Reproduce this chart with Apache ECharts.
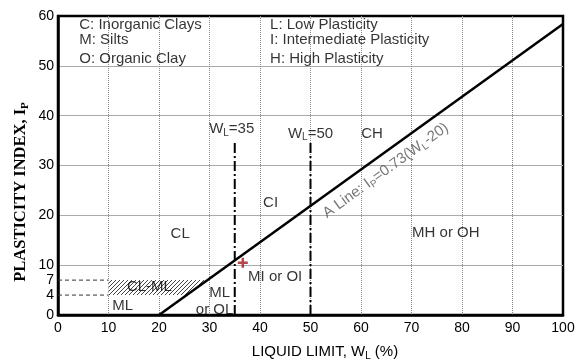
<!DOCTYPE html>
<html><head><meta charset="utf-8">
<script src="https://cdn.jsdelivr.net/npm/echarts@6/dist/echarts.min.js"></script>
<style>html,body{margin:0;padding:0;background:#fff}#c{width:580px;height:360px}</style>
</head><body><div id="c"></div>
<script>
// ---- data ----
const xRange = [0, 100];
const yRange = [0, 60];
const yTickLabels = [0, 4, 7, 10, 20, 30, 40, 50, 60];
const aLinePoints = [[20, 0], [100, 58.4]];
const wl35Line = [[35, 0], [35, 35]];
const wl50Line = [[50, 0], [50, 35]];
const ip4Line = [[0, 4], [10, 4]];
const ip7Line = [[0, 7], [10, 7]];
const clmlPolygon = [[10, 4], [25.5, 4], [29.6, 7], [10, 7]];
const samplePoint = [[36.6, 10.5]];
// [x, y, text, anchor]
const legendTexts = [
  [4.2, 58.3, 'C: Inorganic Clays', 'left'],
  [4.2, 55.2, 'M: Silts', 'left'],
  [4.2, 51.3, 'O: Organic Clay', 'left'],
  [42.0, 58.3, 'L: Low Plasticity', 'left'],
  [42.0, 55.2, 'I: Intermediate Plasticity', 'left'],
  [42.0, 51.3, 'H: High Plasticity', 'left']
];
const zoneTexts = [
  [24.2, 16.3, 'CL', 'center'],
  [18.1, 5.6, 'CL-ML', 'center'],
  [12.8, 1.8, 'ML', 'center'],
  [32.0, 4.5, 'ML', 'center'],
  [31.0, 1.0, 'or OL', 'center'],
  [43.0, 7.7, 'MI or OI', 'center'],
  [42.1, 22.5, 'CI', 'center'],
  [62.2, 36.3, 'CH', 'center'],
  [76.8, 16.5, 'MH or OH', 'center'],
  [34.4, 37.3, 'W{s|L}=35', 'center'],
  [50.0, 36.4, 'W{s|L}=50', 'center']
];
const aLineLabel = [[64.9, 29.0, 'A Line: I{s|P}=0.73(W{s|L}-20)']];
const xTitle = 'LIQUID LIMIT, W{s|L} (%)';
const yTitle = 'PLASTICITY INDEX, I{s|P}';

// ---- chart ----
const FONT = '"Liberation Sans", Arial, sans-serif';
const SERIF = '"Liberation Serif", "Times New Roman", serif';
const subRich = { s: { fontSize: 10, fontFamily: FONT, padding: [8, 0, 0, 0] } };

const pc = document.createElement('canvas');
pc.width = 4; pc.height = 4;
const g = pc.getContext('2d');
g.fillStyle = '#fff'; g.fillRect(0, 0, 4, 4);
g.fillStyle = '#444';
for (let i = 0; i < 4; i++) g.fillRect(i, 3 - i, 1, 1);

function lineSeries(data, style) {
  return { type: 'line', data: data, showSymbol: false, symbol: 'none', silent: true,
    lineStyle: style, z: 4, animation: false };
}
function textSeries(items, color, extra) {
  return {
    type: 'scatter', symbolSize: 0, silent: true, z: 6, animation: false,
    data: items.map(t => ({
      value: [t[0], t[1]],
      label: Object.assign({ show: true, position: 'inside', formatter: t[2], align: t[3] || 'center',
        verticalAlign: 'middle', color: color, fontSize: 15, fontFamily: FONT, rich: subRich }, extra || {})
    }))
  };
}

const chart = echarts.init(document.getElementById('c'), null, { renderer: 'canvas' });
chart.setOption({
  animation: false,
  backgroundColor: '#fff',
  grid: { left: 58, right: 17, top: 16, bottom: 45, show: true, borderColor: '#000', borderWidth: 2.5, backgroundColor: 'transparent' },
  xAxis: {
    type: 'value', min: xRange[0], max: xRange[1], interval: 10,
    axisLine: { show: true, onZero: false, lineStyle: { color: '#000', width: 2.5 } },
    axisTick: { show: false },
    axisLabel: { color: '#000', fontSize: 14, fontFamily: FONT, margin: 6 },
    splitLine: { show: true, showMinLine: false, showMaxLine: false, lineStyle: { type: 'dotted', color: '#888', width: 1 } }
  },
  yAxis: {
    type: 'value', min: yRange[0], max: yRange[1], interval: 10,
    axisLine: { show: true, onZero: false, lineStyle: { color: '#000', width: 2.5 } },
    axisTick: { show: false },
    axisLabel: { color: '#000', fontSize: 14, fontFamily: FONT, margin: 4, customValues: yTickLabels },
    splitLine: { show: true, showMinLine: false, showMaxLine: false, lineStyle: { type: 'solid', color: '#aaa', width: 1 } }
  },
  graphic: [
    { type: 'text', x: 325, y: 352, silent: true,
      style: { text: xTitle, fill: '#000', fontSize: 15, fontFamily: FONT, align: 'center', verticalAlign: 'middle', rich: subRich } },
    { type: 'text', x: 21, y: 192, rotation: Math.PI / 2, silent: true,
      style: { text: yTitle, fill: '#000', fontSize: 16.5, fontWeight: 'bold', fontFamily: SERIF,
        align: 'center', verticalAlign: 'middle',
        rich: { s: { fontSize: 11, fontWeight: 'bold', fontFamily: SERIF, padding: [8, 0, 0, 0] } } } }
  ],
  series: [
    {
      type: 'custom', silent: true, z: 2, animation: false,
      data: [0],
      renderItem: function (params, api) {
        const pts = clmlPolygon.map(p => api.coord(p));
        return { type: 'polygon', shape: { points: pts }, style: { fill: { image: pc, repeat: 'repeat' }, stroke: null } };
      }
    },
    lineSeries(ip4Line, { color: '#333', width: 1, type: [4, 3] }),
    lineSeries(ip7Line, { color: '#333', width: 1, type: [4, 3] }),
    lineSeries(wl35Line, { color: '#000', width: 2, type: [10, 3, 2, 3] }),
    lineSeries(wl50Line, { color: '#000', width: 2, type: [10, 3, 2, 3] }),
    lineSeries(aLinePoints, { color: '#000', width: 2.5, type: 'solid' }),
    {
      type: 'scatter', data: samplePoint, silent: true, z: 7, animation: false,
      symbol: 'path://M3,0H5V3H8V5H5V8H3V5H0V3H3Z', symbolSize: 10,
      itemStyle: { color: '#a3151b' }
    },
    textSeries(legendTexts, '#000'),
    textSeries(zoneTexts, '#000'),
    textSeries(aLineLabel, '#555', { rotate: 36 })
  ]
});
</script></body></html>
